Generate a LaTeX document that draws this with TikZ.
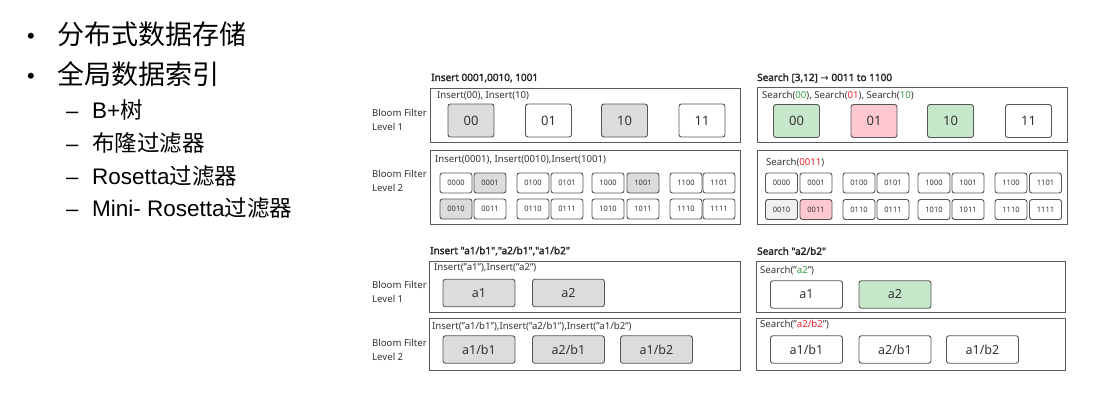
\documentclass[tikz,border=0pt]{standalone}
\usepackage{fontspec}
\setmainfont{Noto Sans}
\newfontfamily\cjk{Noto Sans CJK SC}
\newfontfamily\lat{Liberation Sans}
\newfontfamily\arr{DejaVu Sans}
\newfontfamily\ttlfont{Noto Sans}[FakeBold=2.2]
\definecolor{pcol}{HTML}{5A5A5A}
\definecolor{bcol}{HTML}{555555}
\definecolor{tcol}{HTML}{333333}
\definecolor{gfill}{HTML}{DCDCDC}
\definecolor{lgfill}{HTML}{F0F0F0}
\definecolor{grfill}{HTML}{C6E7C9}
\definecolor{pkfill}{HTML}{FFC8CE}
\definecolor{grtxt}{HTML}{3A9E4A}
\definecolor{rdtxt}{HTML}{EE2028}
\begin{document}
\begin{tikzpicture}[x=1pt,y=-1pt,
  panel/.style={draw=pcol, line width=0.9pt, inner sep=0, anchor=north west},
  bx/.style={draw=bcol, line width=0.9pt, rounded corners=2.5pt, text=tcol, inner sep=0, fill=white},
  big/.style={bx, minimum width=46pt, minimum height=33pt, font=\fontsize{13}{13}\selectfont},
  sm/.style={bx, minimum width=32pt, minimum height=20pt, font=\fontsize{7.5}{7.5}\selectfont},
  ab/.style={bx, minimum width=72pt, minimum height=27.5pt, font=\fontsize{12.5}{12.5}\selectfont},
  lbl/.style={anchor=west, inner sep=0, text=tcol, font=\fontsize{9.6}{9.6}\selectfont},
  ttl/.style={anchor=west, inner sep=0, text=black!85, font=\ttlfont\fontsize{10}{10}\selectfont},
  bf/.style={anchor=west, align=left, inner sep=0, text=tcol, font=\fontsize{9.6}{13.5}\selectfont},
  bigtxt/.style={anchor=base west, inner sep=0, font=\cjk\fontsize{27}{27}\selectfont},
  subtxt/.style={anchor=base west, inner sep=0, font=\fontsize{22.5}{22.5}\selectfont},
  bulmark/.style={anchor=base west, inner sep=0, font=\lat\fontsize{22}{22}\selectfont}
]
\useasboundingbox (0,0) rectangle (1104,400);
\fill[white] (0,0) rectangle (1104,400);

% ---------- left text ----------
\node[bulmark] (b1) at (27,43) {•};
\node[bigtxt] (t1) at (57,44.5) {分布式数据存储};
\node[bulmark] (b2) at (27,83) {•};
\node[bigtxt] (t2) at (57,84.5) {全局数据索引};
\node[bulmark] (d1) at (66,118) {–};
\node[subtxt] (s1) at (92,118) {\lat B+\cjk 树};
\node[bulmark] (d2) at (66,151) {–};
\node[subtxt] (s2) at (92,151) {\cjk 布隆过滤器};
\node[bulmark] (d3) at (66,184.5) {–};
\node[subtxt] (s3) at (92,184.5) {\lat Rosetta\cjk 过滤器};
\node[bulmark] (d4) at (66,216.5) {–};
\node[subtxt] (s4) at (92,216.5) {\lat Mini- Rosetta\cjk 过滤器};

% ---------- titles ----------
\node[ttl] (ttlA) at (431,78) {Insert 0001,0010, 1001};
\node[ttl] (ttlB) at (757,78) {Search [3,12] {\arr →} 0011 to 1100};
\node[ttl] (ttlC) at (430,251) {Insert "a1/b1","a2/b1","a1/b2"};
\node[ttl] (ttlD) at (757,251) {Search "a2/b2"};

% ---------- Bloom filter labels ----------
\node[bf] (bfA1) at (372,120) {Bloom Filter\\Level 1};
\node[bf] (bfA2) at (372,181) {Bloom Filter\\Level 2};
\node[bf] (bfC1) at (372,292) {Bloom Filter\\Level 1};
\node[bf] (bfC2) at (372,350) {Bloom Filter\\Level 2};

% ---------- panels ----------
\node[panel, minimum width=310pt, minimum height=54pt] (pA1) at (430,88) {};
\node[panel, minimum width=310pt, minimum height=74pt] (pA2) at (430,150) {};
\node[panel, minimum width=310pt, minimum height=55pt] (pB1) at (757,87) {};
\node[panel, minimum width=310pt, minimum height=74pt] (pB2) at (757,150) {};
\node[panel, minimum width=311pt, minimum height=51pt] (pC1) at (429,261) {};
\node[panel, minimum width=311pt, minimum height=52pt] (pC2) at (429,318) {};
\node[panel, minimum width=309pt, minimum height=51pt] (pD1) at (756,261) {};
\node[panel, minimum width=309pt, minimum height=52pt] (pD2) at (756,318) {};

% ---------- panel labels ----------
\node[lbl] (lA1) at (437,95.5) {Insert(00), Insert(10)};
\node[lbl] (lA2) at (435,160) {Insert(0001), Insert(0010),Insert(1001)};
\node[lbl] (lB1) at (762,96) {Search(\textcolor{grtxt}{00}), Search(\textcolor{rdtxt}{01}), Search(\textcolor{grtxt}{10})};
\node[lbl] (lB2) at (766,163) {Search(\textcolor{rdtxt}{0011})};
\node[lbl] (lC1) at (434,268) {Insert("a1"),Insert("a2")};
\node[lbl] (lC2) at (432,327) {Insert("a1/b1"),Insert("a2/b1"),Insert("a1/b2")};
\node[lbl] (lD1) at (760,271) {Search("\textcolor{grtxt}{a2}")};
\node[lbl] (lD2) at (760,325) {Search("\textcolor{rdtxt}{a2/b2}")};

% ---------- level 1 big boxes ----------
\foreach \lab/\cx/\f in {00/471/gfill, 01/548.5/white, 10/624.5/gfill, 11/702/white}
  \node[big, fill=\f] (A-\lab) at (\cx,120.5) {\lab};
\foreach \lab/\cx/\f in {00/796.5/grfill, 01/874/pkfill, 10/950.5/grfill, 11/1028.5/white}
  \node[big, fill=\f] (B-\lab) at (\cx,121) {\lab};

% ---------- level 2 small boxes ----------
\foreach \lab/\cx/\cy/\f in {
  0000/456/183/white, 0001/490/183/gfill, 0100/533/183/white, 0101/567/183/white,
  1000/608/183/white, 1001/643/183/gfill, 1100/686/183/white, 1101/719/183/white,
  0010/456/209/gfill, 0011/490/209/white, 0110/533/209/white, 0111/567/209/white,
  1010/608/209/white, 1011/643/209/white, 1110/686/209/white, 1111/719/209/white}
  \node[sm, fill=\f] (A-\lab) at (\cx,\cy) {\lab};
\foreach \lab/\cx/\cy/\f in {
  0000/781.5/183/white, 0001/816/183/white, 0100/859/183/white, 0101/893/183/white,
  1000/934/183/white, 1001/968/183/white, 1100/1011/183/white, 1101/1045.5/183/white,
  0010/781.5/209.5/lgfill, 0011/816/209.5/pkfill, 0110/859/209.5/white, 0111/893/209.5/white,
  1010/934/209.5/white, 1011/968/209.5/white, 1110/1011/209.5/white, 1111/1045.5/209.5/white}
  \node[sm, fill=\f] (B-\lab) at (\cx,\cy) {\lab};

% ---------- string filter boxes ----------
\node[ab, fill=gfill] (C-a1) at (479,293) {a1};
\node[ab, fill=gfill] (C-a2) at (568.5,293) {a2};
\node[ab, fill=gfill] (C-a1b1) at (479,349.5) {a1/b1};
\node[ab, fill=gfill] (C-a2b1) at (568.5,349.5) {a2/b1};
\node[ab, fill=gfill] (C-a1b2) at (656.5,349.5) {a1/b2};
\node[ab] (D-a1) at (806.5,294.5) {a1};
\node[ab, fill=grfill] (D-a2) at (895,294.5) {a2};
\node[ab] (D-a1b1) at (806.5,349.5) {a1/b1};
\node[ab] (D-a2b1) at (895,349.5) {a2/b1};
\node[ab] (D-a1b2) at (982.5,349.5) {a1/b2};
\end{tikzpicture}
\end{document}
